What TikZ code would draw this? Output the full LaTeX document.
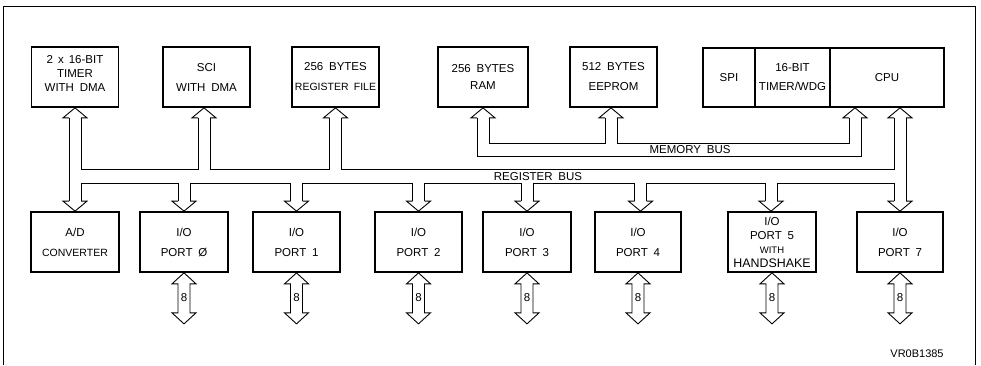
\documentclass[tikz,border=0pt]{standalone}
\usepackage{fontspec}
\setmainfont{Liberation Sans}[WordSpace=1.8]
\usetikzlibrary{calc}
\newcommand{\mkup}[2]{%
  \coordinate (#1) at (#2);
  \coordinate (#1-l) at ($(#1)+(-6,10)$);
  \coordinate (#1-r) at ($(#1)+(6,10)$);
  \draw[busline] (#1-l) -- ++(-6,0) -- (#1) -- ($(#1)+(12,10)$) -- (#1-r);}
\newcommand{\mkdn}[2]{%
  \coordinate (#1) at (#2);
  \coordinate (#1-l) at ($(#1)+(-6,-10)$);
  \coordinate (#1-r) at ($(#1)+(6,-10)$);
  \draw[busline] (#1-l) -- ++(-6,0) -- (#1) -- ($(#1)+(12,-10)$) -- (#1-r);}
\newcommand{\portio}[1]{%
  \draw[busline] (#1.south) -- ++(12,11) -- ++(-6,0) -- ++(0,29) -- ++(6,0)
     -- ++(-12,11) -- ++(-12,-11) -- ++(6,0) -- ++(0,-29) -- ++(-6,0) -- cycle;
  \node[eightlbl] at ($(#1.south)+(0,25)$) {8};}
\begin{document}
\begin{tikzpicture}[x=1pt,y=-1pt,
  blk/.style={draw, line width=1.7pt, inner sep=0pt, align=center,
              minimum height=60, font=\fontsize{11.5}{14}\selectfont},
  txt/.style={inner sep=0pt, align=center, font=\fontsize{11.5}{14}\selectfont},
  busline/.style={line width=0.9pt, line join=miter},
  buslbl/.style={inner sep=0pt, font=\fontsize{11.5}{13}\selectfont},
  eightlbl/.style={inner sep=0pt, font=\fontsize{11.5}{12}\selectfont}]
\useasboundingbox (0,0) rectangle (981,365);
% outer frame
\draw[busline] (3.5,365) -- (3.5,6) -- (975,6) -- (975,365);

% top blocks
\node[blk, minimum width=87] (tmr) at (75,77) {};
\node[txt] at (75,73) {2\hspace{5pt}x\hspace{5pt}16-BIT\\TIMER\\WITH DMA};
\node[blk, minimum width=87] (sci) at (206.5,77) {SCI\\[6pt]WITH DMA};
\node[blk, minimum width=87] (reg) at (335.5,77) {256 BYTES\\[6pt]{\fontsize{10.5}{12}\selectfont REGISTER FILE}};
\node[blk, minimum width=90] (ram) at (483,77) {256 BYTES\\[3pt]RAM};
\node[blk, minimum width=87] (eep) at (613.5,77) {512 BYTES\\[6pt]EEPROM};
\node[blk, minimum width=52, minimum height=59] (spi) at (729,77.5) {SPI};
\node[blk, minimum width=75, minimum height=59] (wdg) at (792.5,77.5) {16-BIT\\[5pt]TIMER/WDG};
\node[blk, minimum width=114, minimum height=59] (cpu) at (887,77.5) {CPU};

% bottom blocks
\node[blk, minimum width=88] (ad) at (75,242) {A/D\\[6pt]{\fontsize{10.5}{12}\selectfont CONVERTER}};
\node[blk, minimum width=88] (p0) at (184,242) {I/O\\[6pt]PORT Ø};
\node[blk, minimum width=87] (p1) at (296.5,242) {I/O\\[6pt]PORT 1};
\node[blk, minimum width=87] (p2) at (418.5,242) {I/O\\[6pt]PORT 2};
\node[blk, minimum width=88] (p3) at (527,242) {I/O\\[6pt]PORT 3};
\node[blk, minimum width=86] (p4) at (638,242) {I/O\\[6pt]PORT 4};
\node[blk, minimum width=88] (p5) at (772,242) {I/O\\PORT 5\\{\fontsize{9.5}{14}\selectfont WITH}\\{\fontsize{12.4}{14}\selectfont HANDSHAKE}};
\node[blk, minimum width=86] (p7) at (900,242) {I/O\\[6pt]PORT 7};

% arrow heads on the blocks
\mkup{aT}{tmr.south}
\mkup{aS}{[xshift=-2.5]sci.south}
\mkup{aR}{reg.south}
\mkup{aM}{ram.south}
\mkup{aE}{[xshift=-2.5]eep.south}
\mkup{aC}{[xshift=-32]cpu.south}
\mkup{aD}{[xshift=13]cpu.south}
\mkdn{bA}{ad.north}
\mkdn{b0}{p0.north}
\mkdn{b1}{p1.north}
\mkdn{b2}{p2.north}
\mkdn{b3}{p3.north}
\mkdn{b4}{[xshift=2.5]p4.north}
\mkdn{b5}{[xshift=-1]p5.north}
\mkdn{b7}{p7.north}

% bus levels
\coordinate (RU) at (0,169.5);
\coordinate (RL) at (0,183.5);
\coordinate (MU) at (0,143);
\coordinate (ML) at (0,156);

% register bus
\draw[busline] (aT-l) -- (bA-l);
\draw[busline] (aT-r) -- (aT-r |- RU) -- (aS-l |- RU) -- (aS-l);
\draw[busline] (aS-r) -- (aS-r |- RU) -- (aR-l |- RU) -- (aR-l);
\draw[busline] (aR-r) -- (aR-r |- RU) -- (aD-l |- RU) -- (aD-l);
\draw[busline] (aD-r) -- (b7-r);
\draw[busline] (bA-r) -- (bA-r |- RL) -- (b0-l |- RL) -- (b0-l);
\draw[busline] (b0-r) -- (b0-r |- RL) -- (b1-l |- RL) -- (b1-l);
\draw[busline] (b1-r) -- (b1-r |- RL) -- (b2-l |- RL) -- (b2-l);
\draw[busline] (b2-r) -- (b2-r |- RL) -- (b3-l |- RL) -- (b3-l);
\draw[busline] (b3-r) -- (b3-r |- RL) -- (b4-l |- RL) -- (b4-l);
\draw[busline] (b4-r) -- (b4-r |- RL) -- (b5-l |- RL) -- (b5-l);
\draw[busline] (b5-r) -- (b5-r |- RL) -- (b7-l |- RL) -- (b7-l);
\node[buslbl] (rbus) at (538,177) {REGISTER BUS};

% memory bus
\draw[busline] (aM-l) -- (aM-l |- ML) -- (aC-r |- ML) -- (aC-r);
\draw[busline] (aM-r) -- (aM-r |- MU) -- (aE-l |- MU) -- (aE-l);
\draw[busline] (aE-r) -- (aE-r |- MU) -- (aC-l |- MU) -- (aC-l);
\node[buslbl] (mbus) at (690,150) {MEMORY BUS};

% 8-bit port lines
\portio{p0}
\portio{p1}
\portio{p2}
\portio{p3}
\portio{p4}
\portio{p5}
\portio{p7}

\node[buslbl, font=\fontsize{11}{12}\selectfont] (ref) at (917,354) {VR0B1385};
\end{tikzpicture}
\end{document}
